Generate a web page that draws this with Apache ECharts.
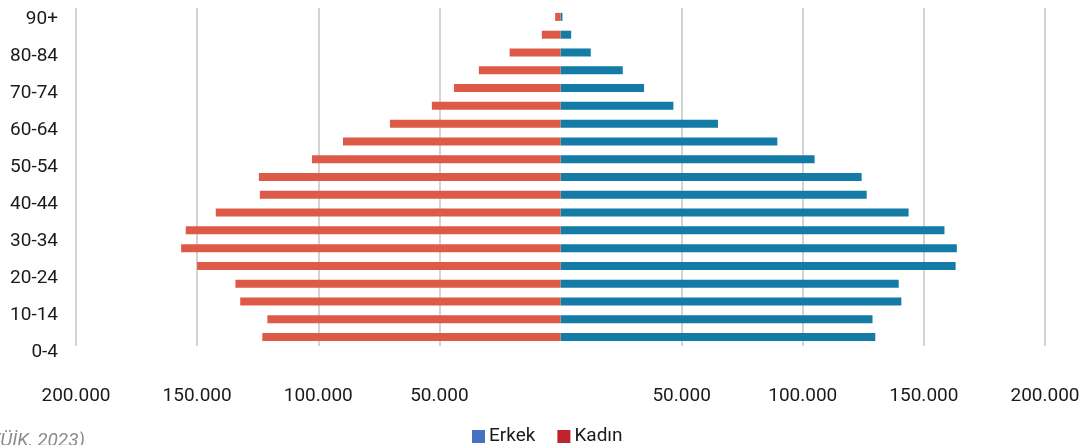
<!DOCTYPE html>
<html>
<head>
<meta charset="utf-8">
<script src="https://cdn.jsdelivr.net/npm/echarts@6/dist/echarts.min.js"></script>
<style>
html,body{margin:0;padding:0;background:#fff;}
#chart{width:1084px;height:445px;}
</style>
</head>
<body>
<div id="chart"></div>
<script>
// Age groups, bottom to top
const categories = ['0-4','5-9','10-14','15-19','20-24','25-29','30-34','35-39','40-44','45-49','50-54','55-59','60-64','65-69','70-74','75-79','80-84','85-89','90+'];
// Male (Erkek) population
const erkek = [129950,128800,140700,139600,163100,163600,158500,143700,126400,124300,104900,89500,65000,46600,34500,25700,12500,4400,800];
// Female (Kadın) population
const kadin = [123100,121000,132200,134200,150000,156600,154700,142300,124100,124500,102600,89800,70400,53100,44000,33700,21000,7700,2200];
const seriesNames = ['Erkek','Kadın'];
const sourceText = '(TÜİK, 2023)';

const FONT = 'Roboto, "Liberation Sans", sans-serif';
const fmt = v => v === 0 ? '' : Math.abs(v).toLocaleString('de-DE');

const chart = echarts.init(document.getElementById('chart'), null, {renderer:'canvas'});
chart.setOption({
  animation:false,
  backgroundColor:'#fff',
  textStyle:{fontFamily:FONT},
  legend:{
    data:[{name:seriesNames[0], itemStyle:{color:'#4472C4'}},{name:seriesNames[1], itemStyle:{color:'#C0232B'}}],
    left:472, top:427, padding:0, itemWidth:13, itemHeight:13, itemGap:22, icon:'rect',
    textStyle:{fontFamily:FONT, fontSize:19, color:'#1a1a1a', padding:[0,0,0,-1]}
  },
  grid:[
    {left:76, right:39, top:8, height:338},
    {left:76, right:39, top:9.5, height:352}
  ],
  xAxis:[
    {type:'value', gridIndex:0, min:-200000, max:200000, interval:50000,
     axisLine:{show:false}, axisTick:{show:false},
     axisLabel:{formatter:fmt, margin:41, fontSize:19, color:'#1a1a1a', fontFamily:FONT},
     splitLine:{show:true, lineStyle:{width:1.5, color:['#c4c4c4','#c4c4c4','#c4c4c4','#c4c4c4','rgba(0,0,0,0)','#c4c4c4','#c4c4c4','#c4c4c4','#c4c4c4']}}},
    {type:'value', gridIndex:1, min:0, max:1, show:false}
  ],
  yAxis:[
    {type:'category', gridIndex:0, data:categories, axisLine:{show:false}, axisTick:{show:false}, axisLabel:{show:false}, splitLine:{show:false}},
    {type:'category', gridIndex:1, data:categories, axisLine:{show:false}, axisTick:{show:false},
     axisLabel:{interval:1, margin:18, fontSize:19, color:'#1a1a1a', fontFamily:FONT}, splitLine:{show:false}}
  ],
  graphic:[{type:'text', right:1084-85, top:432, style:{text:sourceText, font:'italic 19px Roboto, "Liberation Sans", sans-serif', fill:'#8c8c8c'}}],
  series:[
    {name:seriesNames[0], type:'bar', xAxisIndex:0, yAxisIndex:0, data:erkek, barWidth:8, barGap:'-100%', itemStyle:{color:'#137BA5'}},
    {name:seriesNames[1], type:'bar', xAxisIndex:0, yAxisIndex:0, data:kadin.map(v=>-v), barWidth:8, barGap:'-100%', itemStyle:{color:'#DD5A48'}}
  ]
});
</script>
</body>
</html>
